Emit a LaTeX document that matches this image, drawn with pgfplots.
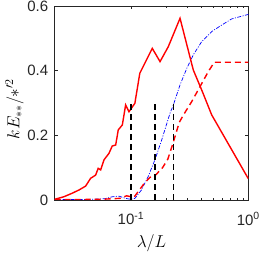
\documentclass[border=0pt]{standalone}
\usepackage{pgfplots}
\pgfplotsset{compat=1.18}
\usepackage{fontspec}
\setmainfont{Liberation Sans}
\begin{document}
\begin{tikzpicture}
\begin{axis}[
  scale only axis,
  width=193.6pt, height=194pt,
  xmode=log,
  xmin=0.0224, xmax=1,
  ymin=0, ymax=0.6,
  xtick={0.1,1},
  xticklabels={10\textsuperscript{-1},10\textsuperscript{0}},
  ytick={0,0.2,0.4,0.6},
  yticklabels={0,0.2,0.4,0.6},
  tick align=inside,
  major tick length=3pt,
  minor tick length=1.8pt,
  axis line style={line width=0.8pt, black!85},
  every tick/.style={line width=0.6pt, black!85},
  tick label style={font=\fontsize{15}{17}\selectfont, black!85},
  /pgf/number format/assume math mode=true,
  label style={font=\fontsize{18.5}{21}\selectfont},
  xlabel={$\lambda/L$},
  ylabel={$kE_{\ast\ast}/{\ast}'^{2}$},
  xlabel style={at={(axis description cs:0.5,-0.225)}, anchor=center},
  ylabel style={at={(axis description cs:-0.207,0.469)}, anchor=center},
  xticklabel style={yshift=-9pt},
  yticklabel style={xshift=-3pt},
  clip=true,
]
% blue dash-dot
\addplot[blue, line width=0.7pt, dash pattern=on 4pt off 1.5pt on 1pt off 1.5pt] coordinates {
(0.0224,0.001) (0.0447,0.002) (0.060,0.004) (0.0693,0.010) (0.079,0.012) (0.090,0.005)
(0.1,0.002) (0.108,0.005) (0.123,0.031) (0.140,0.072) (0.160,0.124) (0.183,0.186)
(0.215,0.268) (0.230,0.294) (0.262,0.356) (0.299,0.407) (0.340,0.449) (0.401,0.490)
(0.488,0.521) (0.593,0.541) (0.721,0.560) (1.0,0.574)};
% red dashed
\addplot[red, line width=1.4pt, dash pattern=on 6pt off 4pt] coordinates {
(0.0224,0.001) (0.0544,0.002) (0.0805,0.005) (0.092,0.013) (0.1,0.010) (0.108,0.012)
(0.129,0.05) (0.145,0.07) (0.163,0.078) (0.186,0.100) (0.206,0.126) (0.228,0.175)
(0.258,0.240) (0.279,0.262) (0.329,0.304) (0.387,0.350) (0.456,0.397) (0.513,0.426) (1.0,0.426)};
% red solid
\addplot[red, line width=1.4pt] coordinates {
(0.0224,0.001) (0.0228,0.003) (0.0268,0.010) (0.0316,0.021) (0.0361,0.031) (0.0411,0.043)
(0.0453,0.067) (0.0500,0.077) (0.0526,0.098) (0.0552,0.093) (0.0589,0.124) (0.0649,0.144)
(0.0693,0.167) (0.0741,0.170) (0.0780,0.217) (0.0844,0.232) (0.0901,0.294) (0.0962,0.273)
(0.108,0.299) (0.119,0.392) (0.152,0.469) (0.177,0.428) (0.208,0.474) (0.262,0.562)
(0.340,0.402) (0.401,0.340) (0.488,0.263) (1.0,0.066)};
% black dashed verticals
\addplot[black, line width=1.5pt, dash pattern=on 6pt off 4pt] coordinates {(0.1,0) (0.1,0.3)};
\addplot[black, line width=1.5pt, dash pattern=on 6pt off 4pt] coordinates {(0.161,0) (0.161,0.3)};
\addplot[black, line width=1.5pt, dash pattern=on 6pt off 4pt] coordinates {(0.23,0) (0.23,0.3)};
\end{axis}
\pgfresetboundingbox
\path (current axis.south west) ++(-54.7pt,-53pt) coordinate (bbA);
\path (current axis.north east) ++(13.7pt,6pt) coordinate (bbB);
\useasboundingbox (bbA) rectangle (bbB);
\end{tikzpicture}
\end{document}
